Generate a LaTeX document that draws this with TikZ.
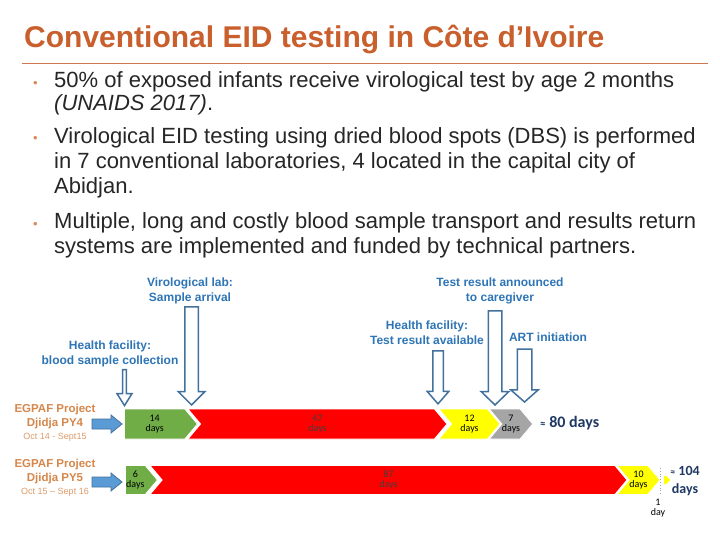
\documentclass[tikz,border=0pt]{standalone}
\usepackage{fontspec}
\setmainfont{Liberation Sans}
\newfontfamily\carlito{Carlito}
\usepackage{xcolor}
\usepackage{tikz}
\usetikzlibrary{shapes.symbols, shapes.arrows, positioning, calc}

\definecolor{titleorange}{RGB}{200,95,45}
\definecolor{ruleorange}{RGB}{205,120,80}
\definecolor{bodytext}{RGB}{38,38,38}
\definecolor{dotorange}{RGB}{215,140,90}
\definecolor{labelblue}{RGB}{46,117,182}
\definecolor{arrowline}{RGB}{65,113,156}
\definecolor{arrowfill}{RGB}{91,155,213}
\definecolor{projorange}{RGB}{214,135,75}
\definecolor{dateorange}{RGB}{222,155,105}
\definecolor{stagegreen}{RGB}{112,173,71}
\definecolor{stagered}{RGB}{255,0,0}
\definecolor{stageyellow}{RGB}{255,255,0}
\definecolor{stagegray}{RGB}{165,165,165}
\definecolor{totalnavy}{RGB}{31,56,100}

\begin{document}
\begin{tikzpicture}[
  x=1pt, y=-1pt,
  heading/.style={anchor=base west, inner sep=0, text=titleorange, font=\fontsize{30}{34}\selectfont\bfseries},
  bullettext/.style={anchor=base west, inner sep=0, align=left, text=bodytext, font=\fontsize{22}{25.5}\selectfont},
  dot/.style={anchor=base west, inner sep=0, text=dotorange, font=\fontsize{13}{14}\selectfont},
  stagelabel/.style={inner sep=0, align=center, text=labelblue, font=\fontsize{12}{14.5}\selectfont\bfseries},
  project/.style={inner sep=0, align=center, text=projorange, font=\fontsize{11.5}{14}\selectfont\bfseries},
  period/.style={inner sep=0, text=dateorange, font=\fontsize{9}{11}\selectfont},
  hollow/.style={single arrow, rotate=-90, anchor=tip, draw=arrowline, fill=white, line width=1.5pt, inner xsep=0, single arrow head indent=0},
  feed/.style={draw=arrowline, fill=arrowfill, line width=0.8pt, line join=miter},
  chev/.style={signal, signal to=east, signal from=west, signal pointer angle=100, minimum height=30, inner sep=0, draw=white, line width=0.8pt, align=center, font=\carlito\fontsize{10}{10.5}\selectfont},
  total/.style={inner sep=0, align=center, text=totalnavy, font=\carlito\bfseries\fontsize{16}{19}\selectfont}
]
\useasboundingbox[fill=white] (0,0) rectangle (720,540);

% title and bullets
\node (title) [heading] at (24,48) {Conventional EID testing in Côte d’Ivoire};
\draw[ruleorange, line width=0.8pt] (22,63) -- (708,63);

\node (dot1) [dot] at (33,87.5) {•};
\node (bul1) [bullettext, font=\fontsize{22}{23.5}\selectfont] at (54,111) {50\% of exposed infants receive virological test by age 2 months\\\textit{(UNAIDS 2017)}.};
\node (dot2) [dot] at (33,142.5) {•};
\node (bul2) [bullettext] at (54,194) {Virological EID testing using dried blood spots (DBS) is performed\\in 7 conventional laboratories, 4 located in the capital city of\\Abidjan.};
\node (dot3) [dot] at (33,228.5) {•};
\node (bul3) [bullettext, font=\fontsize{22}{25}\selectfont] at (54,253.5) {Multiple, long and costly blood sample transport and results return\\systems are implemented and funded by technical partners.};

% stage labels
\node (lab) [stagelabel] at (190,291) {Virological lab:\\Sample arrival};
\node (announced) [stagelabel] at (500,291) {Test result announced\\to caregiver};
\node (available) [stagelabel] at (427,332.5) {Health facility:\\Test result available};
\node (art) [stagelabel] at (548,337) {ART initiation};
\node (collect) [stagelabel] at (110,354) {Health facility:\\blood sample collection};

% hollow arrows down to the bars
\node (acollect) [hollow, inner ysep=1.2, minimum height=36, minimum width=15, single arrow head extend=5.5, single arrow tip angle=64] at (124.5,407) {};
\node (alab) [hollow, inner ysep=6, minimum height=98, minimum width=26, single arrow head extend=6.5, single arrow tip angle=90] at (191.5,406) {};
\node (aavailable) [hollow, inner ysep=4.5, minimum height=53, minimum width=21, single arrow head extend=5.5, single arrow tip angle=82] at (438,405) {};
\node (aannounced) [hollow, inner ysep=6, minimum height=94, minimum width=27, single arrow head extend=7, single arrow tip angle=92] at (495,406) {};
\node (aart) [hollow, inner ysep=6.5, minimum height=53, minimum width=27, single arrow head extend=6.5, single arrow tip angle=97] at (524.5,403) {};

% PY4
\node (py4) [project] at (55,417) {EGPAF Project\\Djidja PY4};
\node (py4date) [period, below=3pt of py4] {Oct 14 - Sept15};
\node (g4) [chev, signal from=nowhere, anchor=west, fill=stagegreen, minimum width=73] at (124,424) {14\\days};
\node (r4) [chev, fill=stagered, minimum width=259, text=black!75] at (317.5,424) {47\\days};
\node (y4) [chev, fill=stageyellow, minimum width=61] at (469.5,424) {12\\days};
\node (k4) [chev, fill=stagegray, minimum width=32] at (511,424) {7\\days};
\node (tot4) [total, anchor=west] at (540,423) {{\fontsize{11}{12}\selectfont ≈} 80 days};

% PY5
\node (py5) [project] at (55,472) {EGPAF Project\\Djidja PY5};
\node (py5date) [period, below=3pt of py5] {Oct 15 – Sept 16};
\node (g5) [chev, signal from=nowhere, anchor=west, fill=stagegreen, minimum width=32, minimum height=29] at (125,480) {6\\days};
\node (r5) [chev, fill=stagered, minimum width=477, minimum height=29, text=black!75] at (388.5,480) {87\\days};
\node (y5) [chev, fill=stageyellow, minimum width=43, minimum height=29] at (638.5,480) {10\\days};
\node (d5) [signal, signal to=east, fill=stageyellow, minimum width=6, minimum height=8, inner sep=0] at (665,480) {};
\draw[gray!70, dotted, line width=0.8pt] ($(d5.west)+(-3,-12)$) -- ($(d5.west)+(-3,15)$);
\node (oneday) [inner sep=0, align=center, font=\carlito\fontsize{10}{10.5}\selectfont] at (658,508) {1\\day};
\node (tot5) [total, font=\carlito\bfseries\fontsize{14}{18}\selectfont] at (685,481) {{\fontsize{10}{12}\selectfont ≈} 104\\days};

% blue arrows from the project names to the bars
\coordinate (feed4) at ([xshift=-2pt]g4.west);
\coordinate (feed5) at ($(g5.west)+(-3,2)$);
\foreach \tip in {feed4, feed5}
  \draw[feed] ([shift={(-30,-5)}]\tip) -- ([shift={(-11,-5)}]\tip) -- ([shift={(-11,-9)}]\tip)
    -- (\tip) -- ([shift={(-11,9)}]\tip) -- ([shift={(-11,5)}]\tip) -- ([shift={(-30,5)}]\tip) -- cycle;
\end{tikzpicture}
\end{document}
